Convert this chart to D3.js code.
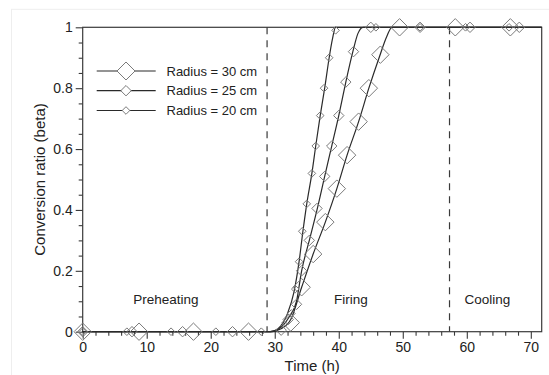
<!DOCTYPE html>
<html><head><meta charset="utf-8">
<script src="https://cdn.jsdelivr.net/npm/d3@7"></script>
<style>
html,body{margin:0;padding:0;background:#fff;}
svg{display:block;font-family:"Liberation Sans",Arial,sans-serif;}
</style></head>
<body><svg id="c" width="549" height="375"></svg>
<script>
// ---- data ----
const seriesNames = ["Radius = 30 cm", "Radius = 25 cm", "Radius = 20 cm"];
// model curves (lines)
const line30T = [0, 29.3, 31.0, 32.5, 34.2, 36.0, 37.9, 39.7, 41.3, 43.1, 44.7, 46.3, 47.5, 48.3, 71.7];
const line30B = [0, 0, 0.01, 0.04, 0.146, 0.255, 0.36, 0.47, 0.58, 0.69, 0.80, 0.90, 0.97, 1, 1];
const line25T = [0, 29.3, 31.0, 32.3, 33.4, 34.2, 35.4, 36.6, 37.8, 38.9, 40.0, 41.1, 42.2, 43.0, 43.8, 71.7];
const line25B = [0, 0, 0.015, 0.05, 0.1, 0.2, 0.3, 0.4, 0.51, 0.61, 0.71, 0.82, 0.92, 0.98, 1, 1];
const line20T = [0, 29.3, 30.5, 32.0, 33.0, 33.8, 34.4, 35.0, 35.8, 36.4, 37.1, 37.8, 38.5, 39.0, 39.5, 71.7];
const line20B = [0, 0, 0.01, 0.06, 0.13, 0.23, 0.33, 0.42, 0.52, 0.61, 0.71, 0.80, 0.90, 0.96, 1, 1];
// measured points (markers)
const mark30T = [0, 8.8, 17.3, 25.9, 32.5, 34.2, 36.0, 37.9, 39.7, 41.3, 43.1, 44.7, 46.5, 49.5, 58.2, 66.8];
const mark30B = [0, 0, 0, 0, 0.03, 0.146, 0.255, 0.36, 0.47, 0.58, 0.69, 0.80, 0.91, 1, 1, 1];
const mark25T = [0, 7.7, 15.6, 23.4, 31.0, 32.1, 33.4, 34.2, 35.4, 36.6, 37.8, 38.9, 40.0, 41.1, 42.3, 45.0, 52.7, 60.5, 68.2];
const mark25B = [0, 0, 0, 0, 0.005, 0.04, 0.09, 0.2, 0.3, 0.405, 0.51, 0.61, 0.71, 0.82, 0.92, 1, 1, 1, 1];
const mark20T = [0, 6.9, 13.8, 20.8, 27.9, 32.6, 33.2, 33.8, 34.3, 35.0, 35.8, 36.4, 37.1, 37.7, 38.5, 39.5, 45.8, 52.7, 59.8, 66.6];
const mark20B = [0, 0, 0, 0, 0, 0.06, 0.14, 0.23, 0.33, 0.42, 0.52, 0.61, 0.71, 0.80, 0.90, 0.99, 1, 1, 1, 1];
const phaseBounds = [28.8, 57.3];
const phaseLabels = ["Preheating", "Firing", "Cooling"];
const phaseLabelX = [13.0, 41.9, 63.2];
const xTicks = [0, 10, 20, 30, 40, 50, 60, 70];
const yTicks = [0, 0.2, 0.4, 0.6, 0.8, 1];

// ---- layout ----
const svg = d3.select("#c");
const L = 82.7, R = 541.7, T = 27.3, B = 331.7;
const x = d3.scaleLinear().domain([0, 71.7]).range([L, R]);
const y = d3.scaleLinear().domain([0, 1]).range([B, T]);
const ink = "#3a3a3a";

// faint outer frame
svg.append("rect").attr("x", 11.5).attr("y", 9.3).attr("width", 560).attr("height", 400)
  .attr("fill", "none").attr("stroke", "#eeeeee").attr("stroke-width", 1);

// dashed phase boundaries
svg.selectAll("line.phase").data(phaseBounds).enter().append("line")
  .attr("x1", d => x(d)).attr("x2", d => x(d)).attr("y1", y(1)).attr("y2", y(0))
  .attr("stroke", ink).attr("stroke-width", 1.2).attr("stroke-dasharray", "7,6");

// phase labels
svg.selectAll("text.phase").data(phaseLabels).enter().append("text")
  .attr("x", (d, i) => x(phaseLabelX[i])).attr("y", 303.5)
  .attr("text-anchor", "middle").attr("font-size", "13.5px").attr("fill", "#222")
  .text(d => d);

// axes
const xMinor = d3.range(0, 72, 2).filter(v => v % 10 !== 0);
const yMinor = d3.range(0, 1.001, 0.05).map(v => +v.toFixed(2)).filter(v => Math.abs(v * 5 - Math.round(v * 5)) > 1e-6);

const gx = svg.append("g").attr("transform", `translate(0,${B})`)
  .call(d3.axisBottom(x).tickValues(xTicks).tickSize(7).tickPadding(3).tickFormat(d3.format("d")));
const gxm = svg.append("g").attr("transform", `translate(0,${B})`)
  .call(d3.axisBottom(x).tickValues(xMinor).tickSize(4).tickFormat(""));
const gy = svg.append("g").attr("transform", `translate(${L},0)`)
  .call(d3.axisLeft(y).tickValues(yTicks).tickSize(7).tickPadding(3).tickFormat(d3.format("~g")));
const gym = svg.append("g").attr("transform", `translate(${L},0)`)
  .call(d3.axisLeft(y).tickValues(yMinor).tickSize(4).tickFormat(""));
[gx, gxm, gy, gym].forEach(g => {
  g.selectAll("path.domain").remove();
  g.selectAll("line").attr("stroke", ink).attr("stroke-width", 1.1);
  g.selectAll("text").attr("font-size", "14px").attr("fill", "#222")
    .attr("font-family", "\"Liberation Sans\",Arial,sans-serif");
});

// frame
svg.append("rect").attr("x", L).attr("y", T).attr("width", R - L).attr("height", B - T)
  .attr("fill", "none").attr("stroke", ink).attr("stroke-width", 1.2);

// axis titles
svg.append("text").attr("x", (L + R) / 2).attr("y", 371).attr("text-anchor", "middle")
  .attr("font-size", "15px").attr("fill", "#222").text("Time (h)");
svg.append("text").attr("transform", `translate(45,${(T + B) / 2}) rotate(-90)`)
  .attr("text-anchor", "middle").attr("font-size", "15px").attr("fill", "#222")
  .text("Conversion ratio (beta)");

// series
const series = [
  {name: seriesNames[0], lt: line30T, lb: line30B, mt: mark30T, mb: mark30B, s: 8.7},
  {name: seriesNames[1], lt: line25T, lb: line25B, mt: mark25T, mb: mark25B, s: 5.2},
  {name: seriesNames[2], lt: line20T, lb: line20B, mt: mark20T, mb: mark20B, s: 3.8}
];
const diamond = s => `M0,${-s}L${s},0L0,${s}L${-s},0Z`;
const lineGen = d3.line().x(d => x(d[0])).y(d => y(d[1])).curve(d3.curveMonotoneX);

series.forEach(sr => {
  const pts = sr.lt.map((t, i) => [t, sr.lb[i]]);
  svg.append("path").datum(pts).attr("d", lineGen)
    .attr("fill", "none").attr("stroke", "#2a2a2a").attr("stroke-width", 1.2);
});
series.forEach(sr => {
  const pts = sr.mt.map((t, i) => [t, sr.mb[i]]);
  svg.append("g").selectAll("path").data(pts).enter().append("path")
    .attr("transform", d => `translate(${x(d[0])},${y(d[1])})`)
    .attr("d", diamond(sr.s)).attr("fill", "none").attr("stroke", "#7a7a7a").attr("stroke-width", 1);
});

// legend
const legY = [71, 90.7, 110.5];
series.forEach((sr, i) => {
  const g = svg.append("g").attr("transform", `translate(0,${legY[i]})`);
  g.append("line").attr("x1", 96.7).attr("x2", 155.7).attr("y1", 0).attr("y2", 0)
    .attr("stroke", "#2a2a2a").attr("stroke-width", 1.2);
  g.append("path").attr("transform", "translate(126,0)").attr("d", diamond(i === 0 ? 9 : sr.s))
    .attr("fill", "#fff").attr("stroke", "#7a7a7a").attr("stroke-width", 1);
  g.append("text").attr("x", 166.5).attr("y", 0).attr("dy", "0.36em")
    .attr("font-size", "13px").attr("fill", "#222").text(sr.name);
});
</script></body></html>
